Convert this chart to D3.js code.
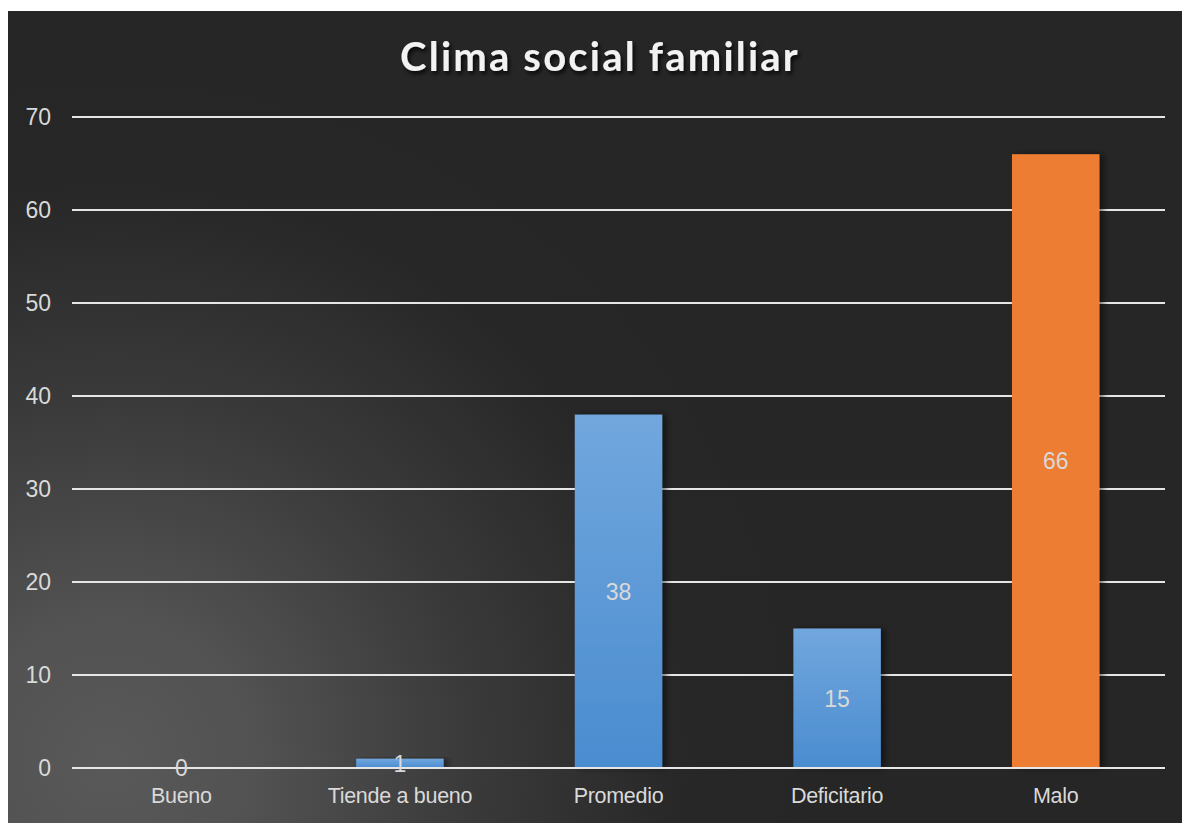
<!DOCTYPE html>
<html>
<head>
<meta charset="utf-8">
<script src="https://cdn.jsdelivr.net/npm/d3@7"></script>
<style>
  html, body { margin: 0; padding: 0; background: #fff; }
  svg { display: block; }
</style>
</head>
<body>
<div id="chart"></div>
<script>
const categories = ['Bueno', 'Tiende a bueno', 'Promedio', 'Deficitario', 'Malo'];
const values = [0, 1, 38, 15, 66];
const barColors = ['blue', 'blue', 'blue', 'blue', 'orange'];
const yTicks = [0, 10, 20, 30, 40, 50, 60, 70];
const title = 'Clima social familiar';

const W = 1182, H = 823;
const panel = {left: 8, top: 11, right: 1182, bottom: 823};
const margin = {top: 117, right: 17, bottom: 55, left: 72};
const width = W - margin.left - margin.right;
const height = H - margin.top - margin.bottom;
const labelFont = 'Arial, "Liberation Sans", sans-serif';

const svg = d3.select('#chart').append('svg')
  .attr('width', W)
  .attr('height', H);

const defs = svg.append('defs');

const bg = defs.append('radialGradient')
  .attr('id', 'bg')
  .attr('gradientUnits', 'userSpaceOnUse')
  .attr('cx', 110).attr('cy', 760).attr('r', 720);
bg.append('stop').attr('offset', '0%').attr('stop-color', '#595959');
bg.append('stop').attr('offset', '20%').attr('stop-color', '#525252');
bg.append('stop').attr('offset', '50%').attr('stop-color', '#3a3a3a');
bg.append('stop').attr('offset', '80%').attr('stop-color', '#272727');
bg.append('stop').attr('offset', '100%').attr('stop-color', '#262626');

const blue = defs.append('linearGradient')
  .attr('id', 'blue')
  .attr('x1', 0).attr('y1', 0).attr('x2', 0).attr('y2', 1);
blue.append('stop').attr('offset', '0%').attr('stop-color', '#71a7dd');
blue.append('stop').attr('offset', '100%').attr('stop-color', '#4a8cd0');

const shadow = defs.append('filter')
  .attr('id', 'shadow')
  .attr('x', '-20%').attr('y', '-10%').attr('width', '140%').attr('height', '120%');
shadow.append('feDropShadow')
  .attr('dx', 4).attr('dy', 0).attr('stdDeviation', 3)
  .attr('flood-color', '#000').attr('flood-opacity', 0.5);

const titleShadow = defs.append('filter').attr('id', 'tshadow');
titleShadow.append('feDropShadow')
  .attr('dx', 2).attr('dy', 3).attr('stdDeviation', 2)
  .attr('flood-color', '#000').attr('flood-opacity', 0.8);

svg.append('rect')
  .attr('x', panel.left).attr('y', panel.top)
  .attr('width', panel.right - panel.left)
  .attr('height', panel.bottom - panel.top)
  .attr('fill', 'url(#bg)');

svg.append('text')
  .attr('x', 600).attr('y', 71)
  .attr('text-anchor', 'middle')
  .attr('fill', '#f2f2f2')
  .attr('font-family', 'Lato, "Open Sans", sans-serif')
  .attr('font-weight', 'bold')
  .attr('font-size', 40)
  .attr('letter-spacing', 2.2)
  .attr('filter', 'url(#tshadow)')
  .text(title);

const g = svg.append('g')
  .attr('transform', 'translate(' + margin.left + ',' + margin.top + ')');

const x = d3.scaleBand()
  .domain(categories)
  .range([0, width])
  .paddingInner(0.6)
  .paddingOuter(0.3);

const y = d3.scaleLinear()
  .domain([0, 70])
  .range([height, 0]);

// gridlines
g.append('g')
  .selectAll('line')
  .data(yTicks)
  .join('line')
  .attr('x1', 0).attr('x2', width)
  .attr('y1', d => y(d)).attr('y2', d => y(d))
  .attr('stroke', '#e6e6e6')
  .attr('stroke-width', 2);

// y axis
const yAxis = g.append('g')
  .call(d3.axisLeft(y).tickValues(yTicks).tickSize(0).tickPadding(21));
yAxis.select('.domain').remove();
yAxis.selectAll('text')
  .attr('fill', '#d9d9d9')
  .attr('font-family', labelFont)
  .attr('font-size', 23);

// x axis
const xAxis = g.append('g')
  .attr('transform', 'translate(0,' + height + ')')
  .call(d3.axisBottom(x).tickSize(0).tickPadding(20));
xAxis.select('.domain').remove();
xAxis.selectAll('text')
  .attr('fill', '#d9d9d9')
  .attr('font-family', labelFont)
  .attr('font-size', 21.5)
  .attr('letter-spacing', -0.3);

const data = categories.map((c, i) => ({key: c, value: values[i], color: barColors[i]}));

g.append('g')
  .selectAll('rect')
  .data(data.filter(d => d.value > 0))
  .join('rect')
  .attr('x', d => x(d.key))
  .attr('y', d => y(d.value))
  .attr('width', x.bandwidth())
  .attr('height', d => height - y(d.value))
  .attr('fill', d => d.color === 'orange' ? '#ed7d31' : 'url(#blue)')
  .attr('filter', 'url(#shadow)');

// redraw baseline over bars
g.append('line')
  .attr('x1', 0).attr('x2', width)
  .attr('y1', y(0)).attr('y2', y(0))
  .attr('stroke', '#e6e6e6')
  .attr('stroke-width', 2);

g.append('g')
  .selectAll('text')
  .data(data)
  .join('text')
  .attr('x', d => x(d.key) + x.bandwidth() / 2)
  .attr('y', d => y(d.value / 2))
  .attr('dy', '0.36em')
  .attr('text-anchor', 'middle')
  .attr('fill', '#d9d9d9')
  .attr('font-family', labelFont)
  .attr('font-size', 23)
  .text(d => d.value);
</script>
</body>
</html>
